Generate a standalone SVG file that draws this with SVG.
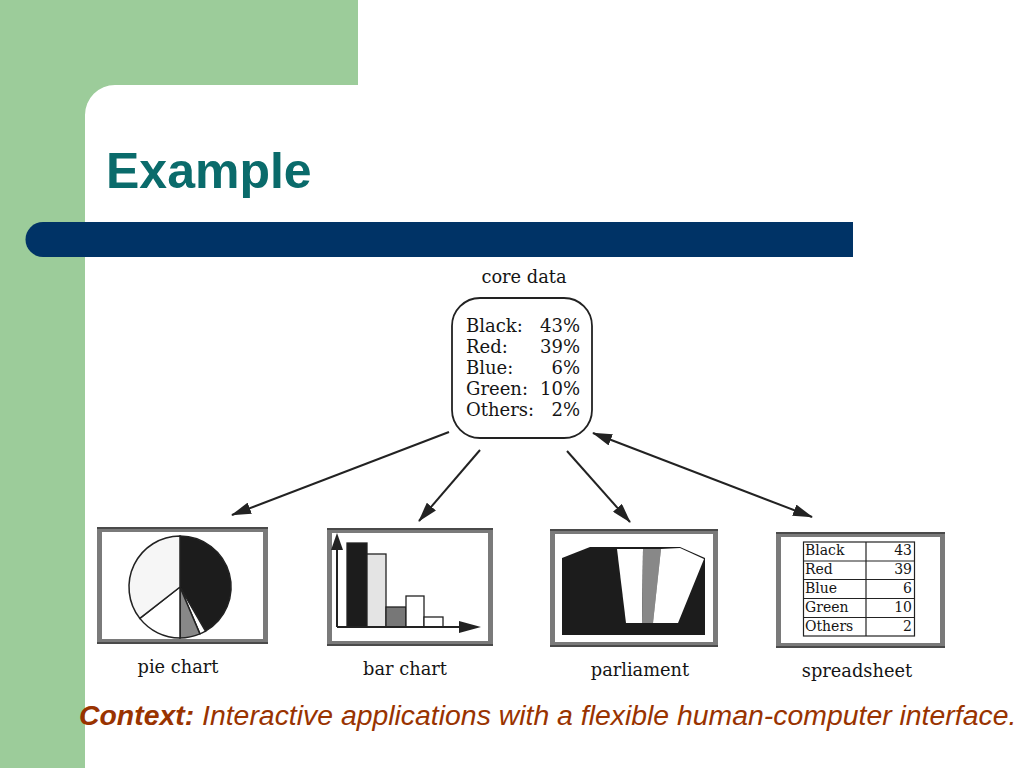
<svg xmlns="http://www.w3.org/2000/svg" width="1024" height="768" viewBox="0 0 1024 768">
<defs>
<style>
.serif{font-family:"DejaVu Serif","Liberation Serif",serif;fill:#151515}
.lbl{font-size:17.8px;text-anchor:middle}
.box{font-size:18px}
.cell{font-size:14px}
.frame{fill:#fff;stroke:#7a7a7a;stroke-width:5}
.frameEdge{stroke:#4a4a4a;stroke-width:2}
.conn{stroke:#222;stroke-width:2;fill:none}
.pie{stroke:#222;stroke-width:1.5}
.bar{stroke:#222;stroke-width:1.3}
.grid{stroke:#222;stroke-width:1.2;fill:none}
</style>
<marker id="ah" viewBox="0 0 20 12" refX="19" refY="6" markerWidth="20" markerHeight="12" markerUnits="userSpaceOnUse" orient="auto-start-reverse">
<path d="M0,0 L20,6 L0,12 Z" fill="#222"/>
</marker>
</defs>

<!-- background -->
<rect x="0" y="0" width="1024" height="768" fill="#fff"/>
<g id="bg">
<path d="M0,0 H358 V85 H115 A30,30 0 0 0 85,115 V768 H0 Z" fill="#9ccc9a"/>
<path d="M43,222 H853 V257 H43 A17.5,17.5 0 0 1 43,222 Z" fill="#003366"/>
<text x="106" y="188" font-family="Liberation Sans, Arial, sans-serif" font-weight="bold" font-size="50" fill="#0a6b6b">Example</text>
</g>

<!-- core data -->
<g id="core">
<text class="serif lbl" x="524" y="283">core data</text>
<rect x="452" y="298" width="140" height="140" rx="28" ry="28" fill="#fff" stroke="#222" stroke-width="1.8"/>
<text class="serif box" x="466" y="332">Black:</text>
<text class="serif box" x="466" y="353">Red:</text>
<text class="serif box" x="466" y="374">Blue:</text>
<text class="serif box" x="466" y="395">Green:</text>
<text class="serif box" x="466" y="416">Others:</text>
<text class="serif box" x="580" y="332" text-anchor="end">43%</text>
<text class="serif box" x="580" y="353" text-anchor="end">39%</text>
<text class="serif box" x="580" y="374" text-anchor="end">6%</text>
<text class="serif box" x="580" y="395" text-anchor="end">10%</text>
<text class="serif box" x="580" y="416" text-anchor="end">2%</text>
</g>

<!-- connectors -->
<g id="connectors">
<line class="conn" x1="449" y1="432" x2="232" y2="515" marker-end="url(#ah)"/>
<line class="conn" x1="480" y1="450" x2="419" y2="521" marker-end="url(#ah)"/>
<line class="conn" x1="567" y1="451" x2="630" y2="522" marker-end="url(#ah)"/>
<line class="conn" x1="593" y1="433" x2="812" y2="517" marker-start="url(#ah)" marker-end="url(#ah)"/>
</g>

<!-- pie chart -->
<g id="pie-chart">
<rect class="frame" x="99.5" y="529.5" width="166" height="112"/>
<line class="frameEdge" x1="97" y1="528" x2="268" y2="528"/>
<line class="frameEdge" x1="97" y1="643" x2="268" y2="643"/>
<path class="pie" d="M180,587 L180,536 A51,51 0 0 1 205.5,631.2 Z" fill="#1c1c1c"/>
<path class="pie" d="M180,587 L205.5,631.2 A51,51 0 0 1 199.9,633.9 Z" fill="#fff"/>
<path class="pie" d="M180,587 L199.9,633.9 A51,51 0 0 1 180,638 Z" fill="#888"/>
<path class="pie" d="M180,587 L180,638 A51,51 0 0 1 139.8,618.4 Z" fill="#fff"/>
<path class="pie" d="M180,587 L139.8,618.4 A51,51 0 0 1 180,536 Z" fill="#f6f6f6"/>
<text class="serif lbl" x="178" y="673">pie chart</text>
</g>

<!-- bar chart -->
<g id="bar-chart">
<rect class="frame" x="329.5" y="530.5" width="161" height="113"/>
<line class="frameEdge" x1="327" y1="529" x2="493" y2="529"/>
<line class="frameEdge" x1="327" y1="645" x2="493" y2="645"/>
<rect class="bar" x="347" y="543" width="20" height="84" fill="#1c1c1c"/>
<rect class="bar" x="367" y="554" width="19" height="73" fill="#e4e4e4"/>
<rect class="bar" x="386" y="607" width="20" height="20" fill="#777"/>
<rect class="bar" x="406" y="596" width="18" height="31" fill="#fff"/>
<rect class="bar" x="424" y="617" width="19" height="10" fill="#fff"/>
<line x1="337" y1="627" x2="337" y2="545" stroke="#222" stroke-width="2"/>
<line x1="337" y1="627" x2="465" y2="627" stroke="#222" stroke-width="2"/>
<path d="M337,533 L343,550 L331,550 Z" fill="#222"/>
<path d="M481,627 L459,621 L459,633 Z" fill="#222"/>
<text class="serif lbl" x="405" y="675">bar chart</text>
</g>

<!-- parliament -->
<g id="parliament">
<rect class="frame" x="552.5" y="531.5" width="163" height="113"/>
<line class="frameEdge" x1="550" y1="530" x2="718" y2="530"/>
<line class="frameEdge" x1="550" y1="646" x2="718" y2="646"/>
<path d="M562,558 L590,547 L680,547 L705,558 L705,635 L562,635 Z" fill="#1c1c1c"/>
<path d="M617,549 L643,549 L642,623 L626,623 Z" fill="#fff"/>
<path d="M643,549 L661,549 L653,623 L642,623 Z" fill="#888"/>
<path d="M661,549 L680,548 L704,559 L678,623 L653,623 Z" fill="#fff"/>
<text class="serif lbl" x="640" y="676">parliament</text>
</g>

<!-- spreadsheet -->
<g id="spreadsheet">
<rect class="frame" x="778.5" y="534.5" width="164" height="111"/>
<line class="frameEdge" x1="776" y1="533" x2="945" y2="533"/>
<line class="frameEdge" x1="776" y1="647" x2="945" y2="647"/>
<rect class="grid" x="803.5" y="542" width="111" height="94"/>
<line class="grid" x1="866" y1="542" x2="866" y2="636"/>
<line class="grid" x1="803.5" y1="561" x2="914.5" y2="561"/>
<line class="grid" x1="803.5" y1="579.5" x2="914.5" y2="579.5"/>
<line class="grid" x1="803.5" y1="598.5" x2="914.5" y2="598.5"/>
<line class="grid" x1="803.5" y1="617.5" x2="914.5" y2="617.5"/>
<text class="serif cell" x="805" y="555">Black</text>
<text class="serif cell" x="805" y="574">Red</text>
<text class="serif cell" x="805" y="593">Blue</text>
<text class="serif cell" x="805" y="612">Green</text>
<text class="serif cell" x="805" y="631">Others</text>
<text class="serif cell" x="912" y="555" text-anchor="end">43</text>
<text class="serif cell" x="912" y="574" text-anchor="end">39</text>
<text class="serif cell" x="912" y="593" text-anchor="end">6</text>
<text class="serif cell" x="912" y="612" text-anchor="end">10</text>
<text class="serif cell" x="912" y="631" text-anchor="end">2</text>
<text class="serif lbl" x="857" y="677">spreadsheet</text>
</g>

<!-- context -->
<text x="79" y="725" font-family="Liberation Sans, Arial, sans-serif" font-size="28.4" font-style="italic" fill="#993300"><tspan font-weight="bold">Context:</tspan> Interactive applications with a flexible human-computer interface.</text>
</svg>
